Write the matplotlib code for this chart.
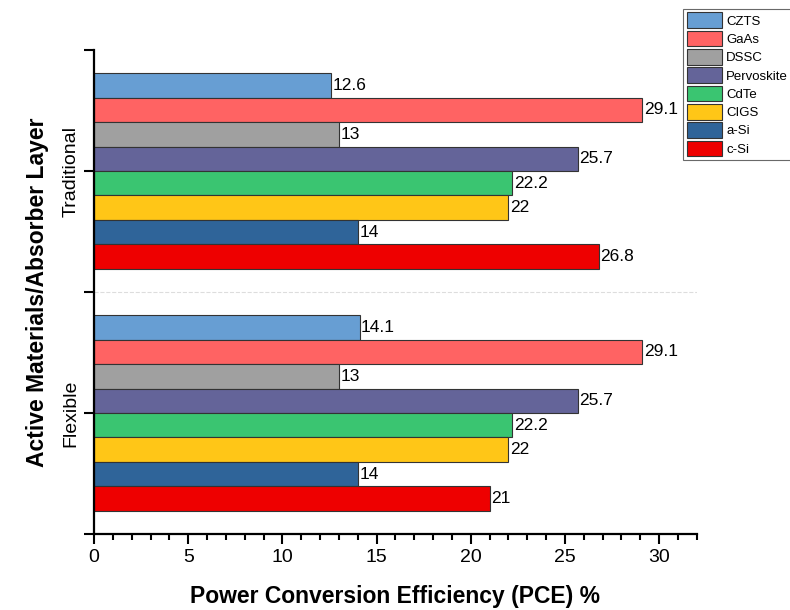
import numpy as np
import matplotlib
matplotlib.use("Agg")
import matplotlib.pyplot as plt
from matplotlib.ticker import MultipleLocator, FixedLocator

plt.rcParams['font.family'] = ['Liberation Sans', 'DejaVu Sans']

groups = ['Flexible', 'Traditional']
materials = ['CZTS', 'GaAs', 'DSSC', 'Pervoskite', 'CdTe', 'CIGS', 'a-Si', 'c-Si']
colors = ['#679ED3', '#FF6363', '#A0A0A0', '#646499', '#3AC571', '#FFC617', '#2F6499', '#EE0000']

flexible = [14.1, 29.1, 13, 25.7, 22.2, 22, 14, 21]
traditional = [12.6, 29.1, 13, 25.7, 22.2, 22, 14, 26.8]
labels = ['14.1', '29.1', '13', '25.7', '22.2', '22', '14', '21']
labels_trad = ['12.6', '29.1', '13', '25.7', '22.2', '22', '14', '26.8']

fig = plt.figure(figsize=(7.9, 6.1), dpi=100)
ax = fig.add_axes([0.119, 0.1246, 0.763, 0.7934])

h = 0.101
n = len(materials)
ypos = np.arange(len(groups))
handles = []
for i, m in enumerate(materials):
    off = (n - 1) / 2 * h - i * h
    vals = [flexible[i], traditional[i]]
    bars = ax.barh(ypos + off, vals, height=h, color=colors[i],
                   edgecolor='#333333', linewidth=0.8, label=m)
    handles.append(bars)
    for b, t in zip(bars, [labels[i], labels_trad[i]]):
        ax.text(b.get_width() + 0.08, b.get_y() + b.get_height() / 2, t,
                va='center', ha='left', fontsize=12.5)

ax.set_xlim(0, 32)
ax.set_ylim(-0.5, 1.5)
ax.xaxis.set_major_locator(MultipleLocator(5))
ax.xaxis.set_minor_locator(MultipleLocator(1))
ax.yaxis.set_major_locator(FixedLocator([0, 1]))
ax.yaxis.set_minor_locator(FixedLocator([-0.5, 0.5, 1.5]))
ax.set_yticklabels(groups, rotation=90, va='center', fontsize=14)
ax.tick_params(axis='x', which='major', length=7, width=1.5, labelsize=14, direction='out')
ax.tick_params(axis='x', which='minor', length=4, width=1.5, direction='out')
ax.tick_params(axis='y', which='both', length=7, width=1.5, direction='out')
ax.axhline(0.5, color='#dddddd', linestyle='--', linewidth=0.8, zorder=0)

for s in ['top', 'right']:
    ax.spines[s].set_visible(False)
for s in ['left', 'bottom']:
    ax.spines[s].set_linewidth(1.6)

ax.set_xlabel('Power Conversion Efficiency (PCE) %', fontsize=16.5, fontweight='bold', labelpad=14)
ax.set_ylabel('Active Materials/Absorber Layer', fontsize=16.5, fontweight='bold', labelpad=10)

leg = fig.legend(handles=handles, labels=materials, loc='upper left',
                 bbox_to_anchor=(0.865, 0.985), fontsize=9.5, frameon=True,
                 fancybox=False, edgecolor='#444444', handlelength=2.7,
                 handleheight=1.45, handletextpad=0.3, labelspacing=0.2,
                 borderpad=0.25, borderaxespad=0)
leg.get_frame().set_linewidth(0.8)

fig.savefig('out.png', dpi=100)
